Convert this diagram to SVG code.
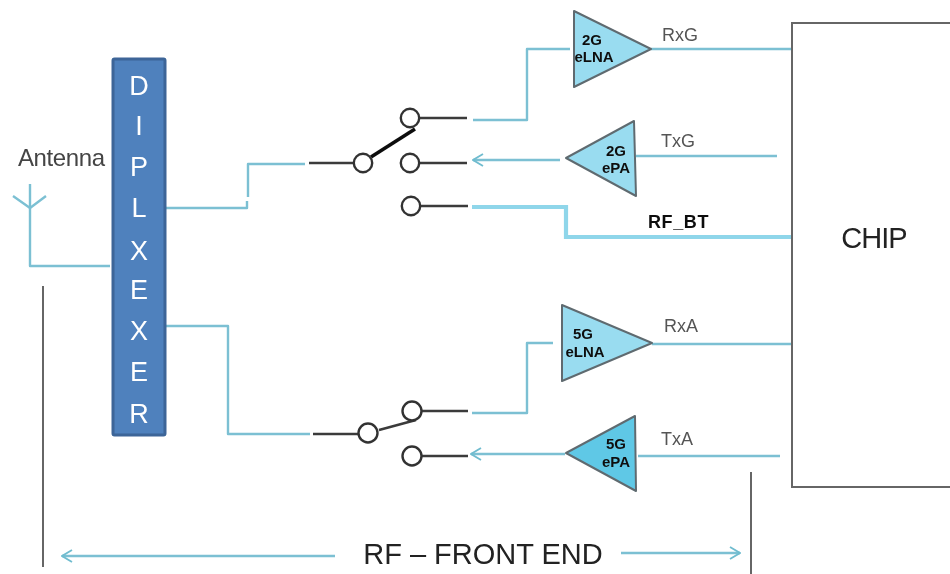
<svg xmlns="http://www.w3.org/2000/svg" width="950" height="574" viewBox="0 0 950 574">
<defs>
<filter id="soft" x="-2%" y="-2%" width="104%" height="104%"><feGaussianBlur stdDeviation="0.45"/></filter>
<marker id="open" viewBox="0 0 14 14" refX="13" refY="7" markerWidth="14" markerHeight="14" markerUnits="userSpaceOnUse" orient="auto"><path d="M3 1 L13 7 L3 13" fill="none" stroke="#6fbccf" stroke-width="1.8"/></marker>
</defs>
<style>
text{font-family:"Liberation Sans",Arial,sans-serif}
.w{fill:none;stroke:#7cc0d3;stroke-width:2.4;stroke-linejoin:round}
.t{fill:none;stroke:#8fd6ea;stroke-width:4.2}
.k{fill:none;stroke:#3a3a3a;stroke-width:2.4}
.g{fill:none;stroke:#666;stroke-width:2}
.c{fill:#fff;stroke:#333;stroke-width:2.4}
.tri{stroke:#5f6b70;stroke-width:2;stroke-linejoin:round}
.amp{font-size:15px;font-weight:bold;fill:#111;text-anchor:middle}
.lbl{font-size:18px;fill:#555}
.dx{font-size:27px;fill:#fff;text-anchor:middle}
</style>
<rect width="950" height="574" fill="#fff"/>
<g filter="url(#soft)">
<g id="connectors">
<path class="w" d="M30 184V266H110"/>
<path class="w" d="M13 196L30 208L46 196"/>
<path class="w" d="M166 208H247V201M248 197V164H305"/>
<path class="w" d="M166 326H228V434H310"/>
<path class="w" d="M473 120H527V49H570"/>
<path class="w" d="M651 49H791"/>
<path class="w" d="M636 156H777"/>
<path class="w" d="M560 160H473" marker-end="url(#open)"/>
<path class="t" d="M472 207H566V237H792"/>
<path class="w" d="M472 413H527V343H553"/>
<path class="w" d="M652 344H791"/>
<path class="w" d="M638 456H780"/>
<path class="w" d="M565 454H471" marker-end="url(#open)"/>
<path class="w" d="M335 556H62" marker-end="url(#open)"/>
<path class="w" d="M621 553H740" marker-end="url(#open)"/>
<path class="k" d="M309 163H354M420 118H467M420 163H467M421 206H468"/>
<path d="M371 157L415 129" fill="none" stroke="#111" stroke-width="3.6"/>
<path d="M405 124L411 127" fill="none" stroke="#111" stroke-width="2.4"/>
<path class="k" d="M313 434H358M379 430L416 420M422 411H468M422 456H468"/>
<path class="g" d="M43 286V567M751 472V574"/>
</g>
<g id="antenna-label"><text x="18" y="166" style="font-size:24px;letter-spacing:-.4px" fill="#444">Antenna</text></g>
<g id="diplexer">
<rect x="113" y="59" width="52" height="376" rx="1.5" fill="#4f81bd" stroke="#3c6598" stroke-width="3"/>
<text class="dx" x="139" y="95">D</text>
<text class="dx" x="139" y="135">I</text>
<text class="dx" x="139" y="176">P</text>
<text class="dx" x="139" y="217">L</text>
<text class="dx" x="139" y="260">X</text>
<text class="dx" x="139" y="299">E</text>
<text class="dx" x="139" y="340">X</text>
<text class="dx" x="139" y="381">E</text>
<text class="dx" x="139" y="423">R</text>
</g>
<g id="switch-upper">
<circle class="c" cx="363" cy="163" r="9.2"/>
<circle class="c" cx="410" cy="118" r="9.2"/>
<circle class="c" cx="410" cy="163" r="9.2"/>
<circle class="c" cx="411" cy="206" r="9.2"/>
</g>
<g id="switch-lower">
<circle class="c" cx="368" cy="433" r="9.5"/>
<circle class="c" cx="412" cy="411" r="9.5"/>
<circle class="c" cx="412" cy="456" r="9.5"/>
</g>
<g id="elna-2g">
<path class="tri" d="M574 11L651 49L574 87Z" fill="#99dcf0"/>
<text class="amp" x="592" y="45">2G</text>
<text class="amp" x="594" y="62">eLNA</text>
</g>
<g id="epa-2g">
<path class="tri" d="M566 158L634 121L636 196Z" fill="#99dcf0"/>
<text class="amp" x="616" y="156">2G</text>
<text class="amp" x="616" y="173">ePA</text>
</g>
<g id="elna-5g">
<path class="tri" d="M562 305L652 343L562 381Z" fill="#99dcf0"/>
<text class="amp" x="583" y="339">5G</text>
<text class="amp" x="585" y="357">eLNA</text>
</g>
<g id="epa-5g">
<path class="tri" d="M566 453L635 416L636 491Z" fill="#5fc8e6"/>
<text class="amp" x="616" y="449">5G</text>
<text class="amp" x="616" y="467">ePA</text>
</g>
<g id="chip">
<path d="M960 23H792V487H960" fill="#fff" stroke="#666" stroke-width="2"/>
<text x="874" y="248" text-anchor="middle" style="font-size:29px;letter-spacing:-1px" fill="#222">CHIP</text>
</g>
<g id="labels">
<text class="lbl" x="662" y="41">RxG</text>
<text class="lbl" x="661" y="147">TxG</text>
<text x="648" y="228" style="font-size:18px;font-weight:bold;letter-spacing:.6px" fill="#111">RF_BT</text>
<text class="lbl" x="664" y="332">RxA</text>
<text class="lbl" x="661" y="445">TxA</text>
<text x="483" y="564" text-anchor="middle" style="font-size:29px" fill="#222">RF – FRONT END</text>
</g>
</g>
</svg>
